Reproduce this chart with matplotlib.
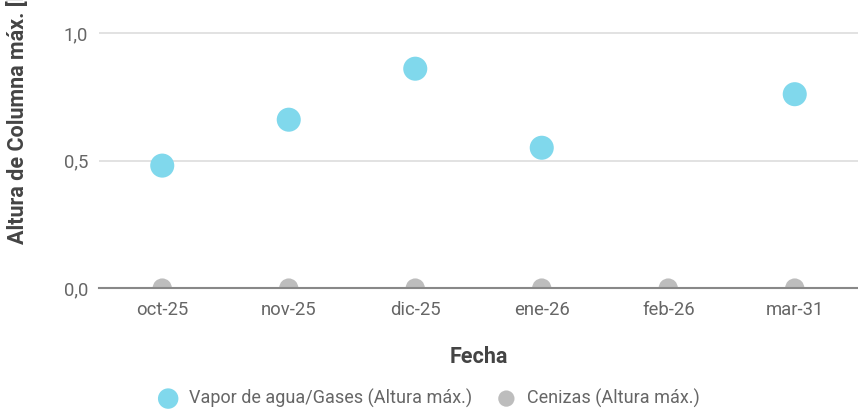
import numpy as np
import matplotlib.pyplot as plt

plt.rcParams['font.family'] = ['Roboto', 'DejaVu Sans']

fechas = ['oct-25', 'nov-25', 'dic-25', 'ene-26', 'feb-26', 'mar-31']
vapor = [0.48, 0.66, 0.86, 0.55, np.nan, 0.76]
cenizas = [0.0, 0.0, 0.0, 0.0, 0.0, 0.0]
y_ticks = [0.0, 0.5, 1.0]
y_tick_labels = ['0,0', '0,5', '1,0']

fig = plt.figure(figsize=(8.58, 4.15), dpi=100)
ax = fig.add_axes([99 / 858, 1 - 288 / 415, (858 - 99) / 858, (288 - 0) / 415])

x = np.arange(len(fechas))
ax.scatter(x, vapor, s=300, color='#80d8ec', edgecolors='none', zorder=3,
           label='Vapor de agua/Gases (Altura máx.)')
ax.scatter(x, cenizas, s=190, color='#bdbdbd', edgecolors='none', zorder=2,
           label='Cenizas (Altura máx.)')

ax.set_xlim(-0.5, len(fechas) - 0.5)
ax.set_ylim(0, 288 / 255)
ax.set_xticks(x)
ax.set_xticklabels(fechas)
ax.set_yticks(y_ticks)
ax.set_yticklabels(y_tick_labels)
ax.tick_params(axis='both', length=0, labelsize=13.3, labelcolor='#666666')
ax.tick_params(axis='x', pad=9)
ax.tick_params(axis='y', pad=8)

for yv in y_ticks[1:]:
    ax.axhline(yv, color='#dddddd', linewidth=1.2, zorder=1)
for side in ['top', 'right', 'left']:
    ax.spines[side].set_visible(False)
ax.spines['bottom'].set_color('#888888')
ax.spines['bottom'].set_linewidth(1.5)
ax.spines['bottom'].set_zorder(4)

# eje x
fig.text(479 / 858, 1 - 357 / 415, 'Fecha', ha='center', va='center',
         fontsize=15.5, fontweight='bold', color='#444444')
# el rótulo del eje y queda cortado arriba, como en el original
fig.text(18 / 858, 1 - 244 / 415, 'Altura de Columna máx. [km]', rotation=90,
         ha='center', va='bottom', fontsize=15.5, fontweight='bold', color='#444444')

leg = fig.legend(loc='center', bbox_to_anchor=(425 / 858, 1 - 398 / 415), ncol=2,
                 frameon=False, fontsize=13, handletextpad=0.15, columnspacing=0.9,
                 markerscale=0.85)
for t in leg.get_texts():
    t.set_color('#666666')

fig.savefig('out.png', dpi=100)
